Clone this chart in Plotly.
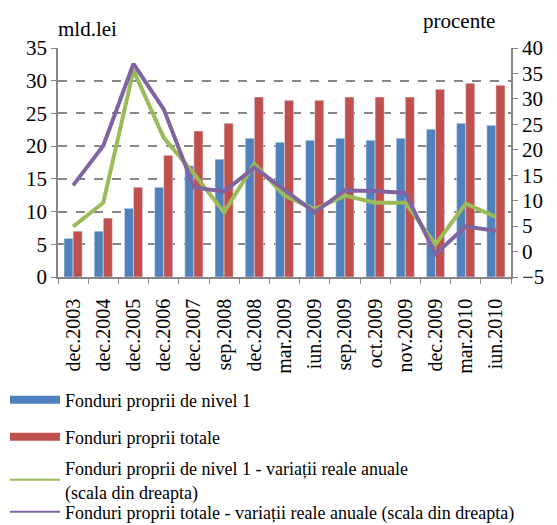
import plotly.graph_objects as go

categories = ["dec.2003", "dec.2004", "dec.2005", "dec.2006", "dec.2007", "sep.2008",
              "dec.2008", "mar.2009", "iun.2009", "sep.2009", "oct.2009", "nov.2009",
              "dec.2009", "mar.2010", "iun.2010"]
nivel1 = [5.9, 7.0, 10.5, 13.7, 17.0, 18.0, 21.2, 20.6, 20.9, 21.2, 20.9, 21.2, 22.6, 23.5, 23.2]
totale = [7.0, 9.0, 13.7, 18.6, 22.3, 23.5, 27.5, 27.0, 27.0, 27.5, 27.5, 27.5, 28.7, 29.6, 29.3]
var_nivel1 = [4.9, 9.6, 35.6, 22.4, 15.3, 7.7, 17.2, 11.0, 8.3, 11.0, 9.6, 9.6, 1.4, 9.4, 6.8]
var_totale = [13.0, 20.8, 36.9, 28.0, 12.6, 11.8, 16.5, 12.0, 7.7, 12.0, 11.9, 11.5, -0.5, 4.9, 4.1]

names = ["Fonduri proprii de nivel 1",
         "Fonduri proprii totale",
         "Fonduri proprii de nivel 1 - variații reale anuale<br>(scala din dreapta)",
         "Fonduri proprii totale - variații reale anuale (scala din dreapta)"]
colors = ["#4F81BD", "#C0504D", "#9BBB59", "#8064A2"]

FONT = '"Liberation Serif", "Times New Roman", serif'
fig = go.Figure()
fig.add_trace(go.Bar(x=categories, y=nivel1, name=names[0],
                     marker_color=colors[0], showlegend=False))
fig.add_trace(go.Bar(x=categories, y=totale, name=names[1],
                     marker_color=colors[1], showlegend=False))
fig.add_trace(go.Scatter(x=categories, y=var_nivel1, yaxis="y2", mode="lines",
                         name=names[2], line=dict(color=colors[2], width=4), showlegend=False))
fig.add_trace(go.Scatter(x=categories, y=var_totale, yaxis="y2", mode="lines",
                         name=names[3], line=dict(color=colors[3], width=4), showlegend=False))

# legend-only entries (wide swatches for bars, thin lines for series), one legend each
legend_widths = [8, 8, 2, 2]
legend_ids = ["legend", "legend2", "legend3", "legend4"]
legend_y = [-0.537, -0.699, -0.886, -1.026]
for nm, col, w, lg in zip(names, colors, legend_widths, legend_ids):
    fig.add_trace(go.Scatter(x=[None], y=[None], mode="lines", name=nm,
                             line=dict(color=col, width=w), legend=lg,
                             hoverinfo="skip"))

legend_style = dict(xref="paper", yref="paper", x=-0.117, xanchor="left",
                    yanchor="middle", orientation="v", font=dict(size=18),
                    itemwidth=50, bgcolor="rgba(0,0,0,0)")

fig.update_layout(
    width=557, height=525,
    margin=dict(l=50, r=54, t=40, b=256, autoexpand=False),
    paper_bgcolor="white", plot_bgcolor="white",
    font=dict(family=FONT, size=20, color="#000000"),
    barmode="group", bargap=0.4, bargroupgap=0,
    xaxis=dict(type="category", tickangle=-90, tickson="boundaries", ticks="outside",
               ticklen=5, tickcolor="#868686", showline=True, linecolor="#868686",
               linewidth=1.5, showgrid=False, tickfont=dict(size=20), automargin=False,
               ticklabelstandoff=12),
    yaxis=dict(range=[0, 35], dtick=5, ticks="outside", ticklen=5, tickcolor="#868686",
               showline=True, linecolor="#868686", linewidth=1.5,
               showgrid=True, gridcolor="#868686", griddash="dash", gridwidth=1.5,
               zeroline=False, tickfont=dict(size=21), automargin=False),
    yaxis2=dict(range=[-5, 40], dtick=5, overlaying="y", side="right", ticks="outside",
                ticklen=5, tickcolor="#868686", showline=True, linecolor="#868686",
                linewidth=1.5, showgrid=False, zeroline=False, tickfont=dict(size=21),
                automargin=False),
    legend=dict(legend_style, y=legend_y[0]),
    legend2=dict(legend_style, y=legend_y[1]),
    legend3=dict(legend_style, y=legend_y[2]),
    legend4=dict(legend_style, y=legend_y[3]),
    annotations=[
        dict(text="mld.lei", xref="paper", yref="paper", x=-0.005, y=1.02,
             xanchor="left", yanchor="bottom", showarrow=False, font=dict(size=21)),
        dict(text="procente", xref="paper", yref="paper", x=0.97, y=1.055,
             xanchor="right", yanchor="bottom", showarrow=False, font=dict(size=21)),
    ],
)
fig.write_html("out.html")
